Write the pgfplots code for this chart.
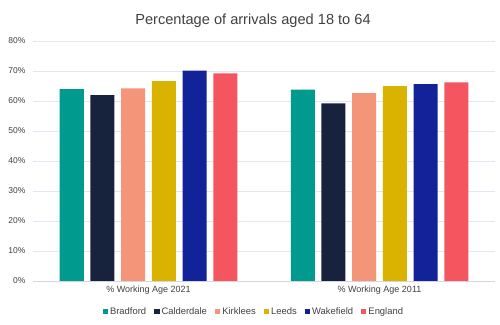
\documentclass[border=0pt]{standalone}
\usepackage{pgfplots}
\pgfplotsset{compat=1.18}
\usepackage{fontspec}
\setmainfont{Liberation Sans}
\definecolor{cBrad}{HTML}{009A8E}
\definecolor{cCald}{HTML}{17233D}
\definecolor{cKirk}{HTML}{F4957A}
\definecolor{cLeed}{HTML}{D9B300}
\definecolor{cWake}{HTML}{12239A}
\definecolor{cEng}{HTML}{F5555F}
\definecolor{gridc}{HTML}{E1E6F2}
\definecolor{txt}{HTML}{404040}
\begin{document}
\begin{tikzpicture}
\path[use as bounding box] (0,0) rectangle (500bp,325bp);
\node[font=\fontsize{14.6bp}{16bp}\selectfont, text=txt] at (253bp,304.5bp) {Percentage of arrivals aged 18 to 64};
\begin{axis}[
  at={(33bp,44bp)}, anchor=south west,
  scale only axis, width=462bp, height=240bp,
  ybar=6.7bp, bar width=24bp,
  xmin=-0.5, xmax=1.5, ymin=0, ymax=80,
  xtick={0,1}, xticklabels={\% Working Age 2021,\% Working Age 2011},
  ytick={0,10,...,80},
  yticklabel={\pgfmathprintnumber{\tick}\%},
  /pgf/number format/assume math mode=true,
  ymajorgrids, grid style={gridc, line width=0.8pt},
  axis x line*=bottom, axis y line*=left,
  y axis line style={draw=none},
  x axis line style={draw=gridc!80!gray!90, line width=0.8pt},
  major tick length=0pt,
  tick label style={font=\fontsize{9bp}{10bp}\selectfont, text=txt},
  yticklabel style={font=\fontsize{8.5bp}{10bp}\selectfont, xshift=-4bp},
  xticklabel style={yshift=-1bp},
  legend style={at={(0.478,-0.128)}, anchor=center, draw=none, fill=none,
    font=\fontsize{9.4bp}{10bp}\selectfont, text=txt,
    /tikz/every even column/.append style={column sep=6bp}},
  legend columns=6,
  legend image code/.code={\fill[#1] (0bp,-2.7bp) rectangle (5.4bp,2.7bp);},
  legend cell align=left,
]
\addplot[fill=cBrad, draw=none] coordinates {(0,64.0) (1,63.8)};
\addplot[fill=cCald, draw=none] coordinates {(0,62.0) (1,59.2)};
\addplot[fill=cKirk, draw=none] coordinates {(0,64.2) (1,62.6)};
\addplot[fill=cLeed, draw=none] coordinates {(0,66.6) (1,65.0)};
\addplot[fill=cWake, draw=none] coordinates {(0,70.1) (1,65.6)};
\addplot[fill=cEng, draw=none] coordinates {(0,69.2) (1,66.2)};
\legend{Bradford,Calderdale,Kirklees,Leeds,Wakefield,England}
\end{axis}
\end{tikzpicture}
\end{document}
